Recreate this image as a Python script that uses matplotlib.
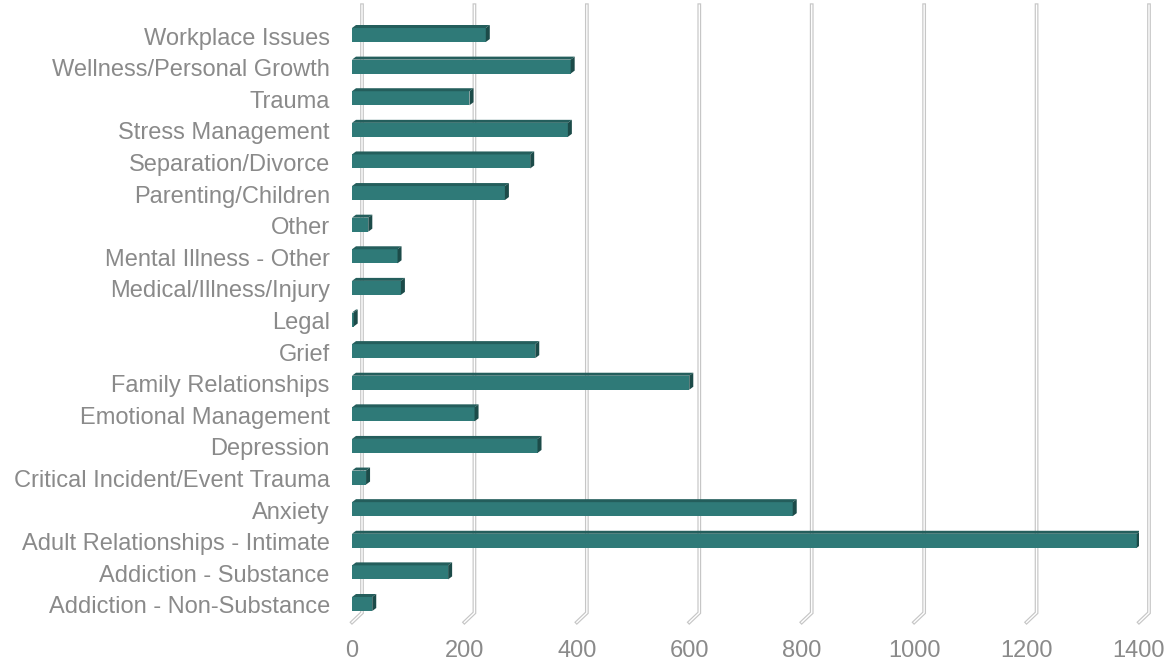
import matplotlib.pyplot as plt
from matplotlib.patches import Polygon

# counts per presenting issue (bottom row first)
categories = [
    "Addiction - Non-Substance",
    "Addiction - Substance",
    "Adult Relationships - Intimate",
    "Anxiety",
    "Critical Incident/Event Trauma",
    "Depression",
    "Emotional Management",
    "Family Relationships",
    "Grief",
    "Legal",
    "Medical/Illness/Injury",
    "Mental Illness - Other",
    "Other",
    "Parenting/Children",
    "Separation/Divorce",
    "Stress Management",
    "Trauma",
    "Wellness/Personal Growth",
    "Workplace Issues",
]
counts = [36, 171, 1396, 784, 25, 330, 218, 600, 326, 3, 87, 81, 29, 272, 317, 384, 209, 389, 238]
xticks = [0, 200, 400, 600, 800, 1000, 1200, 1400]

plt.rcParams["font.family"] = ["Liberation Sans", "DejaVu Sans"]
TXT = "#8a8a8a"
FRONT = "#2f7a78"
TOP = "#245e5c"
SIDE = "#1c4b49"

W, H = 1170, 662
fig = plt.figure(figsize=(W / 100, H / 100), dpi=100)

# plot area in pixels
x0, x1 = 352, 1139
ytop, ybot = 20.2, 620.8
ax = fig.add_axes([x0 / W, 1 - ybot / H, (x1 - x0) / W, (ybot - ytop) / H])
ax.set_xlim(0, xticks[-1])
ax.set_ylim(-0.5, len(categories) - 0.5)

ux = xticks[-1] / (x1 - x0)          # data units per pixel
uy = len(categories) / (ybot - ytop)

# back-wall gridlines (double line) with the floor stub
back = 10 * ux
g_top = len(categories) - 0.5 + 15 * uy
g_bot = -0.5 + 8 * uy
g_front = -0.5 - 1.5 * uy
for v in xticks:
    xs = [v + back, v + back, v]
    ys = [g_top, g_bot, g_front]
    ax.plot(xs, ys, color="#c6c6c6", lw=2.7, clip_on=False, zorder=1,
            solid_joinstyle="miter")
    ax.plot(xs, ys, color="white", lw=1.0, clip_on=False, zorder=1.1,
            solid_joinstyle="miter")

# bars: front face plus top and right faces for the 3D look
ypos = [i + 1.0 * uy for i in range(len(categories))]
h = 14 * uy
dx, dy = 4 * ux, 3 * uy
ax.barh(ypos, counts, height=h, color=FRONT, edgecolor="none", zorder=3)
for y, v in zip(ypos, counts):
    t = y + h / 2
    b = y - h / 2
    ax.add_patch(Polygon([(0, t), (v, t), (v + dx, t + dy), (dx, t + dy)],
                         closed=True, facecolor=TOP, edgecolor="none", zorder=3))
    ax.add_patch(Polygon([(v, b), (v, t), (v + dx, t + dy), (v + dx, b + dy)],
                         closed=True, facecolor=SIDE, edgecolor="none", zorder=3))

ax.set_yticks(range(len(categories)))
ax.set_yticklabels(categories)
ax.set_xticks(xticks)
ax.set_xticklabels([str(v) for v in xticks])
ax.tick_params(axis="both", length=0, labelsize=17, labelcolor=TXT)
ax.tick_params(axis="y", pad=16)
ax.tick_params(axis="x", pad=14)
for s in ax.spines.values():
    s.set_visible(False)
ax.set_facecolor("none")

fig.savefig("out.png", dpi=100, facecolor="white")
